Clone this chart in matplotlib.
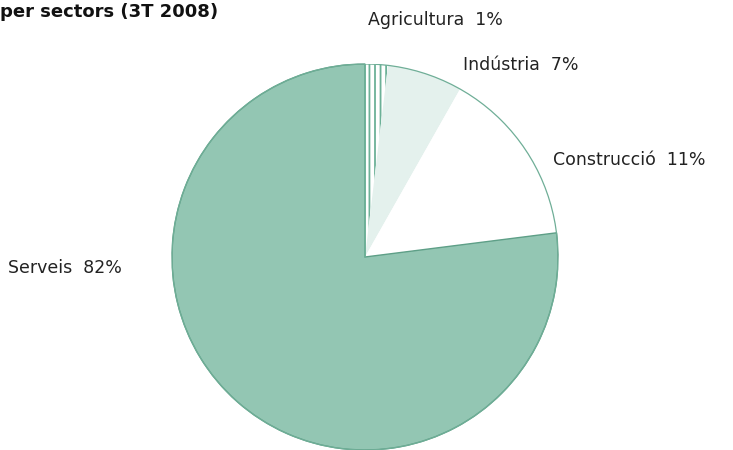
import matplotlib
matplotlib.use("Agg")
import matplotlib.pyplot as plt
from matplotlib.patches import Circle

# Sector shares as drawn (label text keeps the published percentages)
sectors = ["Agricultura", "Indústria", "Construcció", "Serveis"]
shares = [1.9, 6.3, 14.8, 77.0]
pct_labels = ["1%", "7%", "11%", "82%"]
colors = ["#ffffff", "#e4f1ed", "#ffffff", "#93c6b3"]

W, H = 733, 450
fig = plt.figure(figsize=(W / 100, H / 100), dpi=100)

# Pie axes: centre (365, 257) px, radius 193 px
r = 193
cx, cy = 365, 257
ax = fig.add_axes([(cx - r) / W, (H - cy - r) / H, 2 * r / W, 2 * r / H])
plt.rcParams["hatch.linewidth"] = 1.3

wedges, _ = ax.pie(shares, colors=colors, startangle=90, counterclock=False,
                   radius=1.0, wedgeprops=dict(linewidth=0))
ax.set_xlim(-1, 1)
ax.set_ylim(-1, 1)
ax.set_aspect("equal")
ax.axis("off")

# thin agriculture slice rendered as vertical green stripes
wedges[0].set_hatch("|||")
wedges[0].set_edgecolor("#6cb197")
wedges[0].set_linewidth(0)

# rim and dividing line of the services slice
wedges[3].set_edgecolor("#5e9f87")
wedges[3].set_linewidth(1.0)
ax.add_patch(Circle((0, 0), 1.0, fill=False, edgecolor="#6fae97", lw=0.9))
ax.plot([0, 0], [0, 1], color="#6cb197", lw=1.2)

# labels, placed in pixel coordinates
label_pos = [(368, 20), (463, 65), (553, 160), (8, 268)]
for name, pct, (px, py) in zip(sectors, pct_labels, label_pos):
    fig.text(px / W, 1 - py / H, f"{name}  {pct}", ha="left", va="center",
             fontsize=12.5, color="#222222")

# title, cut off at the top-left as in the source
fig.text(0, 1 - 12 / H, "per sectors (3T 2008)", ha="left", va="center",
         fontsize=13, fontweight="bold", color="#111111")

fig.savefig("out.png", dpi=100)
